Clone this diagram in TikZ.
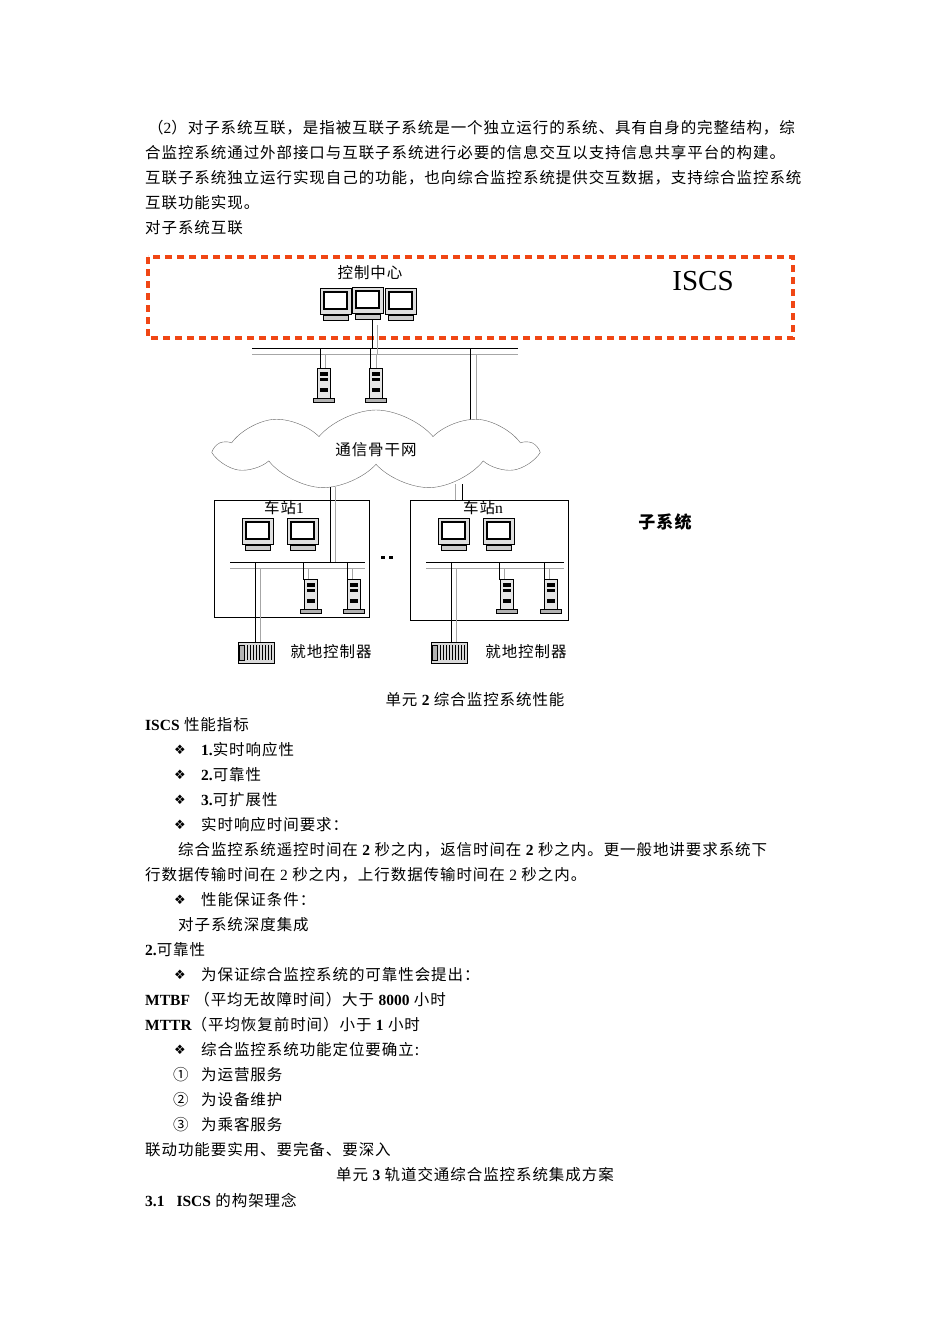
\documentclass[tikz,border=0pt]{standalone}
\usepackage{fontspec}
\setmainfont{Liberation Serif}
\newfontfamily\cjk[LetterSpace=6]{Noto Sans CJK SC}
\newfontfamily\symf{DejaVu Sans}
\usetikzlibrary{shapes.symbols}
\definecolor{iscsred}{RGB}{240,70,20}
\newcommand\B[1]{{\rmfamily\bfseries #1}}
\newcommand\R[1]{{\rmfamily #1}}
\newcommand\dia{{\symf\fontsize{13}{15}\selectfont ❖}}
\newcommand\monitorAt[2]{%
  \draw[fill=gray!25] (#1,#2) rectangle ++(31,26);
  \draw[fill=white,line width=1.2] (#1+4,#2+4) rectangle ++(23,17);
  \draw[fill=gray!40] (#1+3,#2+27) rectangle ++(25,5);
}
\newcommand\serverAt[2]{%
  \draw[fill=gray!20] (#1,#2) rectangle ++(13,30);
  \draw[fill=black] (#1+3,#2+4) rectangle ++(7,3);
  \draw[fill=black] (#1+3,#2+10) rectangle ++(7,2);
  \draw[fill=black] (#1+3,#2+20) rectangle ++(7,3);
  \draw[fill=gray!60] (#1-4,#2+30) rectangle ++(21,4);
}
\newcommand\ctrlAt[2]{%
  \draw[fill=gray!30] (#1,#2) rectangle ++(36,21);
  \foreach \k in {1,...,9}{\draw (#1+6+3*\k,#2+3) -- (#1+6+3*\k,#2+18);}
  \draw[fill=gray!60] (#1+1,#2+3) rectangle ++(5,15);
}
\begin{document}
\begin{tikzpicture}[x=1pt,y=-1pt,
  txt/.style={anchor=west,inner sep=0pt,font=\cjk\fontsize{15.5}{18}\selectfont},
  ctxt/.style={txt,anchor=center},
  net/.style={line width=0.7},
  netg/.style={line width=0.7,gray!70}]
\useasboundingbox[fill=white] (0,0) rectangle (950,1344);

% ---- text above
\node[txt] (t1) at (148,128) {（\R{2}）对子系统互联，是指被互联子系统是一个独立运行的系统、具有自身的完整结构，综};
\node[txt] (t2) at (145,153) {合监控系统通过外部接口与互联子系统进行必要的信息交互以支持信息共享平台的构建。};
\node[txt] (t3) at (145,178) {互联子系统独立运行实现自己的功能，也向综合监控系统提供交互数据，支持综合监控系统};
\node[txt] (t4) at (145,203) {互联功能实现。};
\node[txt] (t5) at (145,228) {对子系统互联};

% ---- diagram
\draw[iscsred,line width=4,dash pattern=on 7pt off 5pt] (148,257) rectangle (793,338);
\node[ctxt] (cc) at (370,273) {控制中心};
\node[anchor=center,inner sep=0pt,font=\fontsize{29}{32}\selectfont] (iscs) at (703,281) {ISCS};
\monitorAt{320}{288}
\monitorAt{385}{288}
\monitorAt{352}{287}
% bus top
\draw[net] (252,348) -- (518,348);
\draw[netg] (252,354) -- (518,354);
\draw[net] (372,320) -- (372,348);
\draw[netg] (377,325) -- (377,354);
\draw[net] (320,348) -- (320,370); \draw[netg] (325,354) -- (325,370);
\draw[net] (370,348) -- (370,370); \draw[netg] (376,354) -- (376,370);
\serverAt{317}{368}
\serverAt{369}{368}
\draw[net] (470,348) -- (470,420);
\draw[netg] (476,354) -- (476,424);
% cloud
\node[cloud,cloud puffs=9,cloud puff arc=100,aspect=4,draw=gray!80!black,fill=white,
  minimum width=318,minimum height=80,inner sep=0pt,font=\cjk\fontsize{15.5}{18}\selectfont] (cloud) at (376,450) {通信骨干网};
% stations
\node[draw,minimum width=155,minimum height=117,inner sep=0pt] (s1) at (291.5,558.5) {};
\node[draw,minimum width=158,minimum height=120,inner sep=0pt] (sn) at (489,560) {};
\node[ctxt] (s1l) at (284,508) {车站\R{1}};
\node[ctxt] (snl) at (483,508) {车站\R{n}};
% links cloud - stations
\draw[net] (330,487) -- (330,562); \draw[netg] (335,487) -- (335,562);
\draw[netg] (455,484) -- (455,500); \draw[net] (462,484) -- (462,500);
% station 1 internals
\monitorAt{242}{518}
\monitorAt{287}{518}
\draw[net] (230,562) -- (365,562); \draw[netg] (230,568) -- (365,568);
\draw[net] (255,562) -- (255,644); \draw[netg] (260,568) -- (260,644);
\draw[net] (303,562) -- (303,580); \draw[netg] (308,568) -- (308,580);
\draw[net] (347,562) -- (347,580); \draw[netg] (352,568) -- (352,580);
\serverAt{304}{579}
\serverAt{347}{579}
% station n internals
\monitorAt{438}{518}
\monitorAt{483}{518}
\draw[net] (426,562) -- (564,562); \draw[netg] (426,568) -- (564,568);
\draw[net] (451,562) -- (451,644); \draw[netg] (456,568) -- (456,644);
\draw[net] (499,562) -- (499,580); \draw[netg] (504,568) -- (504,580);
\draw[net] (544,562) -- (544,580); \draw[netg] (549,568) -- (549,580);
\serverAt{500}{579}
\serverAt{544}{579}
\fill (381,556) rectangle ++(4,3); \fill (389,556) rectangle ++(4,3);
% local controllers
\ctrlAt{238}{642}
\ctrlAt{431}{642}
\node[ctxt] (lc1) at (331,652) {就地控制器};
\node[ctxt] (lc2) at (526,652) {就地控制器};
\node[ctxt,font=\cjk\bfseries\fontsize{17}{18}\selectfont] (sub) at (665,522) {子系统};

% ---- text below
\node[ctxt] (cap2) at (475,700) {单元 \B{2} 综合监控系统性能};
\node[txt] (l1) at (145,725) {\B{ISCS} 性能指标};
\node[anchor=center] at (180,750) {\dia}; \node[txt] at (201,750) {\B{1.}实时响应性};
\node[anchor=center] at (180,775) {\dia}; \node[txt] at (201,775) {\B{2.}可靠性};
\node[anchor=center] at (180,800) {\dia}; \node[txt] at (201,800) {\B{3.}可扩展性};
\node[anchor=center] at (180,825) {\dia}; \node[txt] at (201,825) {实时响应时间要求：};
\node[txt] at (178,850) {综合监控系统遥控时间在 \B{2} 秒之内，返信时间在 \B{2} 秒之内。更一般地讲要求系统下};
\node[txt] at (145,875) {行数据传输时间在 \R{2} 秒之内，上行数据传输时间在 \R{2} 秒之内。};
\node[anchor=center] at (180,900) {\dia}; \node[txt] at (201,900) {性能保证条件：};
\node[txt] at (178,925) {对子系统深度集成};
\node[txt] at (145,950) {\B{2.}可靠性};
\node[anchor=center] at (180,975) {\dia}; \node[txt] at (201,975) {为保证综合监控系统的可靠性会提出：};
\node[txt] at (145,1000) {\B{MTBF} （平均无故障时间）大于 \B{8000} 小时};
\node[txt] at (145,1025) {\B{MTTR}（平均恢复前时间）小于 \B{1} 小时};
\node[anchor=center] at (180,1050) {\dia}; \node[txt] at (201,1050) {综合监控系统功能定位要确立:};
\node[txt] at (173,1075) {①}; \node[txt] at (201,1075) {为运营服务};
\node[txt] at (173,1100) {②}; \node[txt] at (201,1100) {为设备维护};
\node[txt] at (173,1125) {③}; \node[txt] at (201,1125) {为乘客服务};
\node[txt] at (145,1150) {联动功能要实用、要完备、要深入};
\node[ctxt] (cap3) at (475,1175) {单元 \B{3} 轨道交通综合监控系统集成方案};
\node[txt] at (145,1200) {\B{3.1}\hspace{12pt}\B{ISCS} 的构架理念};
\end{tikzpicture}
\end{document}
